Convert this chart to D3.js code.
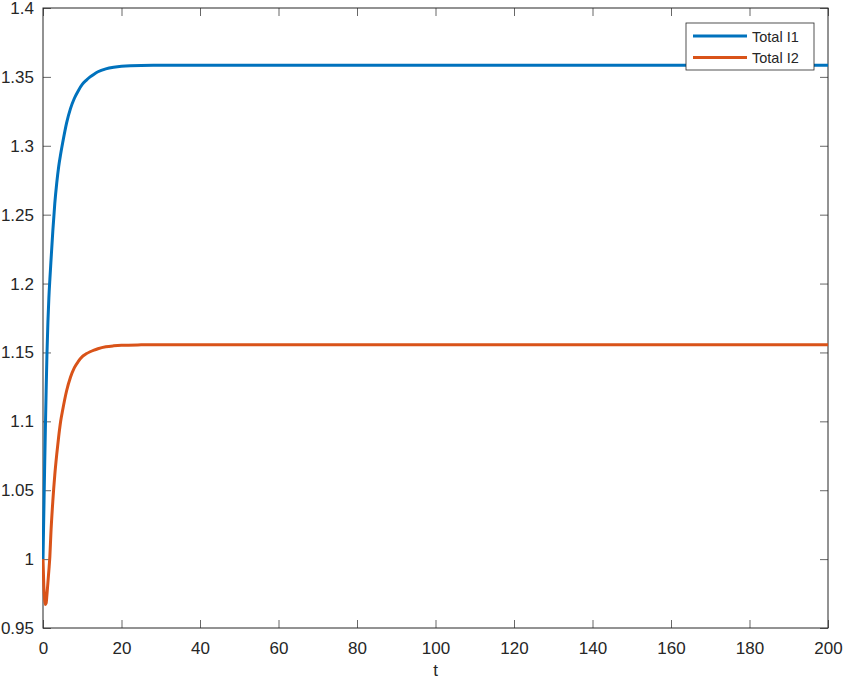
<!DOCTYPE html>
<html>
<head>
<meta charset="utf-8">
<script src="https://cdn.jsdelivr.net/npm/d3@7"></script>
<style>
  body { margin: 0; background: #fff; }
  svg text { font-family: "Liberation Sans", Arial, Helvetica, sans-serif; fill: #262626; }
</style>
</head>
<body>
<div id="chart"></div>
<script>
// time points
const tValues = [0, 0.2, 0.4, 0.6, 0.8, 1, 1.25, 1.5, 1.75, 2, 2.5, 3, 3.5, 4, 4.5, 5, 6, 7, 8, 9, 10, 11, 12, 13, 14, 16, 18, 20, 25, 30, 40, 60, 80, 100, 120, 140, 160, 180, 200];

// Total I1
const i1Values = [1.0, 1.032, 1.064, 1.094, 1.122, 1.148, 1.172, 1.19, 1.203, 1.215, 1.238, 1.258, 1.273, 1.285, 1.294, 1.302, 1.3165, 1.327, 1.3345, 1.340, 1.3445, 1.3475, 1.350, 1.352, 1.3537, 1.3558, 1.357, 1.3577, 1.3583, 1.3584, 1.3584, 1.3584, 1.3584, 1.3584, 1.3584, 1.3584, 1.3584, 1.3584, 1.3584];

// Total I2
const i2Values = [1.0, 0.981, 0.971, 0.967, 0.968, 0.974, 0.983, 0.992, 1.002, 1.018, 1.042, 1.061, 1.076, 1.089, 1.100, 1.108, 1.122, 1.132, 1.139, 1.1435, 1.147, 1.149, 1.1505, 1.1517, 1.1527, 1.1541, 1.1548, 1.1552, 1.1555, 1.1556, 1.1556, 1.1556, 1.1556, 1.1556, 1.1556, 1.1556, 1.1556, 1.1556, 1.1556];

const seriesNames = ["Total I1", "Total I2"];
const xTicks = [0, 20, 40, 60, 80, 100, 120, 140, 160, 180, 200];
const yTicks = [0.95, 1, 1.05, 1.1, 1.15, 1.2, 1.25, 1.3, 1.35, 1.4];

const colors = ["#0072BD", "#D95319"];

let width = 845, height = 680;
let margin = {top: 8, right: 17, bottom: 52, left: 43};
let plotW = width - margin.left - margin.right;
let plotH = height - margin.top - margin.bottom;

let svg = d3.select("#chart").append("svg")
    .attr("width", width)
    .attr("height", height);

let g = svg.append("g")
    .attr("transform", "translate(" + margin.left + "," + margin.top + ")");

let x = d3.scaleLinear().domain([0, 200]).range([0, plotW]);
let y = d3.scaleLinear().domain([0.95, 1.4]).range([plotH, 0]);

// axes (matlab look: ticks pointing in, closed box)
let fmtY = d => String(+d.toFixed(2));

g.append("g")
    .attr("transform", "translate(0," + plotH + ")")
    .call(d3.axisBottom(x).tickValues(xTicks).tickSizeInner(-8).tickSizeOuter(0).tickPadding(14))
    .call(ax => ax.select(".domain").remove())
    .call(ax => ax.selectAll("line").attr("stroke", "#262626").attr("stroke-width", 0.7))
    .call(ax => ax.selectAll("text").style("font-size", "17px").style("fill", "#262626"));

g.append("g")
    .call(d3.axisTop(x).tickValues(xTicks).tickSizeInner(-8).tickSizeOuter(0).tickFormat(""))
    .call(ax => ax.select(".domain").remove())
    .call(ax => ax.selectAll("line").attr("stroke", "#262626").attr("stroke-width", 0.7));

g.append("g")
    .call(d3.axisLeft(y).tickValues(yTicks).tickSizeInner(-8).tickSizeOuter(0).tickPadding(9).tickFormat(fmtY))
    .call(ax => ax.select(".domain").remove())
    .call(ax => ax.selectAll("line").attr("stroke", "#262626").attr("stroke-width", 0.7))
    .call(ax => ax.selectAll("text").style("font-size", "17px").style("fill", "#262626"));

g.append("g")
    .attr("transform", "translate(" + plotW + ",0)")
    .call(d3.axisRight(y).tickValues(yTicks).tickSizeInner(-8).tickSizeOuter(0).tickFormat(""))
    .call(ax => ax.select(".domain").remove())
    .call(ax => ax.selectAll("line").attr("stroke", "#262626").attr("stroke-width", 0.7));

g.append("rect")
    .attr("width", plotW)
    .attr("height", plotH)
    .attr("fill", "none")
    .attr("stroke", "#262626")
    .attr("stroke-width", 1);

// lines
let series = [i1Values, i2Values];
let line = d3.line()
    .x((d, i) => x(tValues[i]))
    .y(d => y(d))
    .curve(d3.curveMonotoneX);

svg.append("clipPath").attr("id", "clip")
    .append("rect").attr("width", plotW + 2).attr("height", plotH).attr("x", -1);

g.append("g").attr("clip-path", "url(#clip)")
    .selectAll(".series")
    .data(series)
    .enter()
    .append("path")
    .attr("class", "series")
    .attr("d", d => line(d))
    .attr("fill", "none")
    .attr("stroke", (d, i) => colors[i])
    .attr("stroke-width", 3)
    .attr("stroke-linejoin", "round");

// x label
svg.append("text")
    .attr("x", margin.left + plotW / 2)
    .attr("y", 676)
    .attr("text-anchor", "middle")
    .style("font-size", "17px")
    .text("t");

// legend
let legend = svg.append("g").attr("transform", "translate(686,23)");
legend.append("rect")
    .attr("width", 128)
    .attr("height", 47)
    .attr("fill", "#fff")
    .attr("stroke", "#262626")
    .attr("stroke-width", 0.8);

let items = legend.selectAll(".item")
    .data(seriesNames)
    .enter()
    .append("g")
    .attr("class", "item")
    .attr("transform", (d, i) => "translate(0," + (13 + i * 21.5) + ")");

items.append("line")
    .attr("x1", 7).attr("x2", 61)
    .attr("stroke", (d, i) => colors[i])
    .attr("stroke-width", 3);

items.append("text")
    .attr("x", 66)
    .attr("y", 5.5)
    .style("font-size", "14.5px")
    .text(d => d);
</script>
</body>
</html>
